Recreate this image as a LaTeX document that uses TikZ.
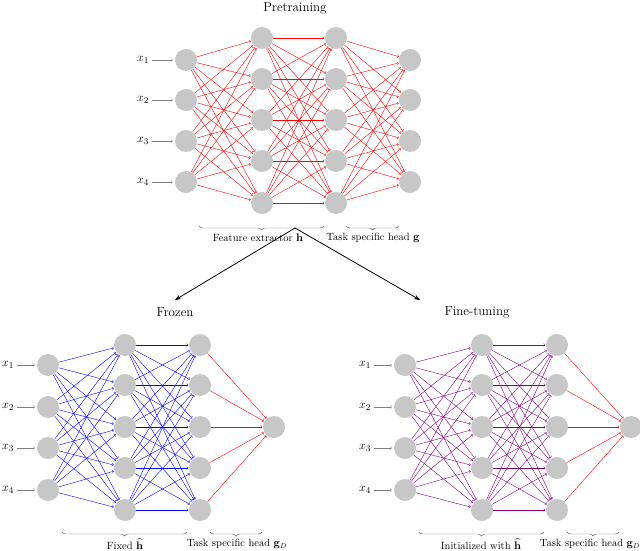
\documentclass[tikz,border=0pt]{standalone}
\usepackage{amsmath}
\usetikzlibrary{arrows.meta, decorations.pathreplacing}

\begin{document}
\begin{tikzpicture}[x=1pt, y=-1pt, font=\fontsize{10.5}{12}\selectfont,
    neuron/.style={circle, fill=black!22, minimum size=22pt, inner sep=0pt},
    link/.style={->, >=to, shorten >=0.5pt},
    feed/.style={->, >=to, black!50, shorten >=2pt},
    input/.style={font=\fontsize{13}{15}\selectfont, inner sep=3pt},
    caption/.style={inner sep=1pt},
    under brace/.style={decorate, decoration={brace, mirror, amplitude=4pt}, black!60},
    title/.style={font=\fontsize{13}{15}\selectfont}]
\useasboundingbox (0,0) rectangle (640,551);

% pretraining network
\node[title] (pretrain) at (295,8) {Pretraining};
\foreach \i/\y in {1/60,2/100,3/141,4/182}{
    \node[neuron] (pi\i) at (186,\y) {};
    \node[input] (px\i) at (143,\y) {$x_\i$};
    \draw[feed] (px\i) -- (pi\i);
    \node[neuron] (po\i) at (410,\y) {};
}
\foreach \j/\y in {1/38,2/79,3/120,4/161,5/203}{
    \node[neuron] (pa\j) at (262,\y) {};
    \node[neuron] (pb\j) at (336,\y) {};
}
\foreach \i in {1,...,4}
    \foreach \j in {1,...,5}
        \draw[link, red] (pi\i) -- (pa\j);
\foreach \i in {1,...,5}
    \foreach \j in {1,...,5}
        \draw[link, red] (pa\i) -- (pb\j);
\foreach \i in {1,...,5}
    \foreach \j in {1,...,4}
        \draw[link, red] (pb\i) -- (po\j);
\draw[under brace] (199,226) -- (324,226);
\draw[under brace] (346,226) -- (399,226);
\node[caption] (pfeat) at (258,238) {Feature extractor $\mathbf{h}$};
\node[caption] (phead) at (373,238) {Task specific head $\mathbf{g}$};

% arrows to the two settings
\coordinate (split) at (295,228);
\coordinate (left) at (175,300);
\coordinate (right) at (420,300);
\draw[-{Stealth[length=6pt]}, thick] (split) -- (left);
\draw[-{Stealth[length=6pt]}, thick] (split) -- (right);

% frozen and fine-tuning networks
\node[title] (frozen) at (175,312) {Frozen};
\node[title] (finetune) at (477,312) {Fine-tuning};
\foreach \n/\ox/\col in {f/0/blue, t/357/violet}{
    \foreach \i/\y in {1/365,2/407,3/448,4/490}{
        \node[neuron] (\n i\i) at (48+\ox,\y) {};
        \node[input] (\n x\i) at (8+\ox,\y) {$x_\i$};
        \draw[feed] (\n x\i) -- (\n i\i);
    }
    \foreach \j/\y in {1/345,2/385,3/427,4/468,5/510}{
        \node[neuron] (\n a\j) at (125+\ox,\y) {};
        \node[neuron] (\n b\j) at (200+\ox,\y) {};
    }
    \node[neuron] (\n o) at (274+\ox,427) {};
    \foreach \i in {1,...,4}
        \foreach \j in {1,...,5}
            \draw[link, \col] (\n i\i) -- (\n a\j);
    \foreach \i in {1,...,5}
        \foreach \j in {1,...,5}
            \draw[link, \col] (\n a\i) -- (\n b\j);
    \foreach \i in {1,...,5}
        \draw[link, red] (\n b\i) -- (\n o);
    \draw[under brace] (62+\ox,532) -- (187+\ox,532);
    \draw[under brace] (210+\ox,532) -- (262+\ox,532);
}
\node[caption] (fhat) at (125,544) {Fixed $\widehat{\mathbf{h}}$};
\node[caption] (fhead) at (237,544) {Task specific head $\mathbf{g}_D$};
\node[caption] (that) at (481,544) {Initialized with $\widehat{\mathbf{h}}$};
\node[caption] (thead) at (590,544) {Task specific head $\mathbf{g}_D$};
\end{tikzpicture}
\end{document}
